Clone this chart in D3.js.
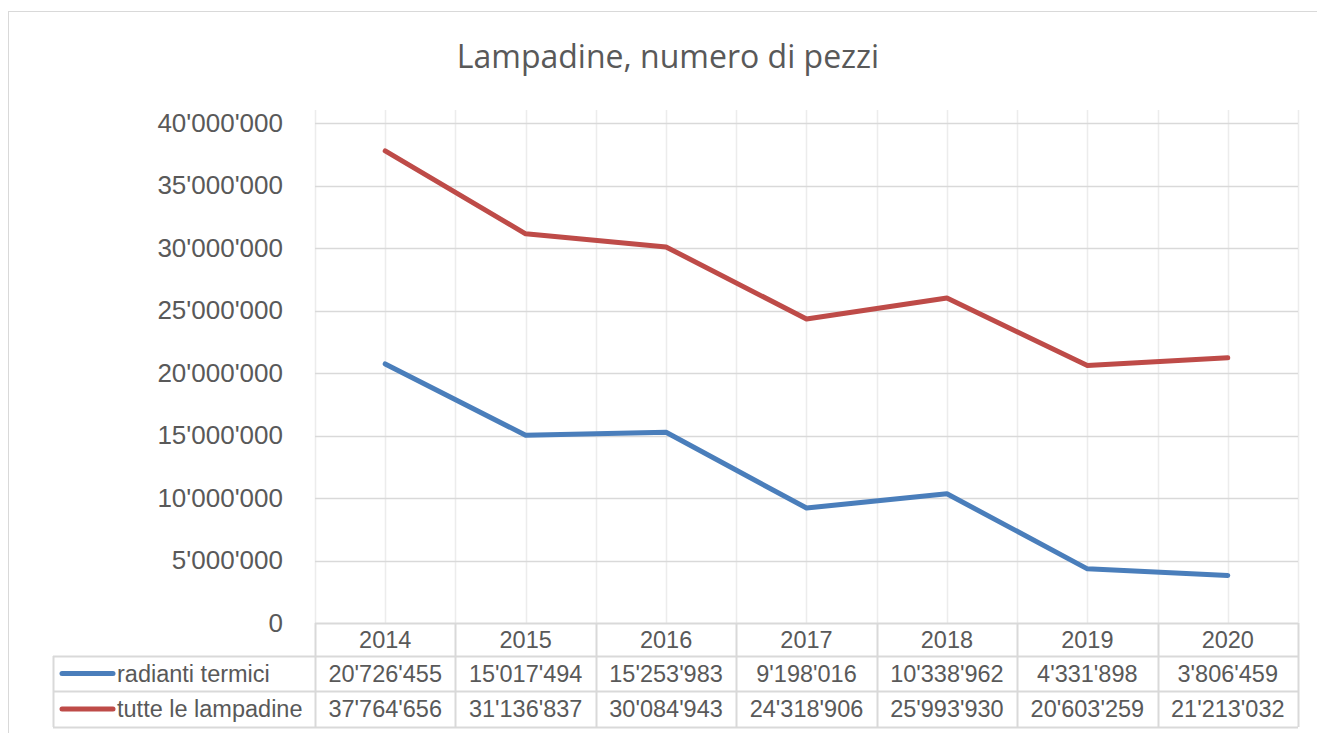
<!DOCTYPE html>
<html>
<head>
<meta charset="utf-8">
<script src="https://cdn.jsdelivr.net/npm/d3@7"></script>
<style>
  body { margin: 0; background: #ffffff; overflow: hidden; }
  text { font-family: "Liberation Sans", Arial, sans-serif; fill: #595959; }
  .title { font-family: "Open Sans", "Noto Sans", sans-serif; }
</style>
</head>
<body>
<div id="chart"></div>
<script>
var years = ["2014", "2015", "2016", "2017", "2018", "2019", "2020"];
var radianti = [20726455, 15017494, 15253983, 9198016, 10338962, 4331898, 3806459];
var tutte = [37764656, 31136837, 30084943, 24318906, 25993930, 20603259, 21213032];
var yTicks = [0, 5000000, 10000000, 15000000, 20000000, 25000000, 30000000, 35000000, 40000000];
var seriesNames = ["radianti termici", "tutte le lampadine"];
var seriesColors = ["#4a7ebb", "#be4b48"];

var width = 1317, height = 733;
var plotLeft = 315, plotRight = 1298, plotTop = 123, plotBottom = 623;
var tableLeft = 53;
var rowH = [623, 656, 691, 727]; // header, row1, row2, end

var fmt = d3.formatLocale({decimal: ".", thousands: "'", grouping: [3], currency: ["", ""]}).format(",d");

var svg = d3.select("#chart").append("svg")
  .attr("width", width)
  .attr("height", height);

// chart frame (runs past the right and bottom edges)
svg.append("rect")
  .attr("x", 8.5).attr("y", 11.5)
  .attr("width", 1320).attr("height", 740)
  .attr("fill", "none")
  .attr("stroke", "#d9d9d9");

svg.append("text")
  .attr("class", "title")
  .attr("x", 668).attr("y", 68)
  .attr("text-anchor", "middle")
  .style("font-size", "32px")
  .text("Lampadine, numero di pezzi");

var x = d3.scaleBand().domain(years).range([plotLeft, plotRight]);
var y = d3.scaleLinear().domain([0, 40000000]).range([plotBottom, plotTop]);

// vertical gridlines: boundaries and centres of each category
var vx = [];
years.forEach(function (d) { vx.push(x(d)); vx.push(x(d) + x.bandwidth() / 2); });
vx.push(plotRight);
svg.selectAll(".vgrid")
  .data(vx)
  .enter().append("line")
  .attr("x1", function (d) { return Math.round(d) + 0.5; })
  .attr("x2", function (d) { return Math.round(d) + 0.5; })
  .attr("y1", 110).attr("y2", plotBottom)
  .attr("stroke", "#ececec")
  .attr("stroke-width", 1.5);

// horizontal gridlines
svg.selectAll(".hgrid")
  .data(yTicks.filter(function (d) { return d > 0; }))
  .enter().append("line")
  .attr("x1", plotLeft).attr("x2", plotRight)
  .attr("y1", function (d) { return Math.round(y(d)) + 0.5; })
  .attr("y2", function (d) { return Math.round(y(d)) + 0.5; })
  .attr("stroke", "#d9d9d9")
  .attr("stroke-width", 1.5);

// y axis labels
var yaxis = d3.axisLeft(y).tickValues(yTicks).tickFormat(fmt).tickSize(0).tickPadding(0);
var gy = svg.append("g")
  .attr("transform", "translate(283,0)")
  .call(yaxis);
gy.select(".domain").remove();
gy.selectAll("text")
  .attr("fill", "#595959")
  .style("font-family", "'Liberation Sans', Arial, sans-serif")
  .style("font-size", "26px");

// lines
var series = [radianti, tutte];
var line = d3.line()
  .x(function (d, i) { return x(years[i]) + x.bandwidth() / 2; })
  .y(function (d) { return y(d); });

svg.selectAll(".series")
  .data(series)
  .enter().append("path")
  .attr("d", line)
  .attr("fill", "none")
  .attr("stroke", function (d, i) { return seriesColors[i]; })
  .attr("stroke-width", 5)
  .attr("stroke-linecap", "round")
  .attr("stroke-linejoin", "round");

// data table
var tg = svg.append("g");
var bc = "#d9d9d9";

tg.append("line").attr("x1", plotLeft).attr("x2", plotRight).attr("y1", rowH[0] + 0.5).attr("y2", rowH[0] + 0.5).attr("stroke", bc).attr("stroke-width", 2);
[1, 2, 3].forEach(function (k) {
  tg.append("line").attr("x1", tableLeft).attr("x2", plotRight)
    .attr("y1", rowH[k] + 0.5).attr("y2", rowH[k] + 0.5)
    .attr("stroke", bc).attr("stroke-width", 2);
});
var colX = years.map(function (d) { return x(d); }).concat([plotRight]);
colX.forEach(function (cx) {
  tg.append("line").attr("x1", Math.round(cx) + 0.5).attr("x2", Math.round(cx) + 0.5)
    .attr("y1", rowH[0]).attr("y2", rowH[3])
    .attr("stroke", bc).attr("stroke-width", 2);
});
tg.append("line").attr("x1", tableLeft + 0.5).attr("x2", tableLeft + 0.5)
  .attr("y1", rowH[1]).attr("y2", rowH[3])
  .attr("stroke", bc).attr("stroke-width", 2);

// header years
tg.selectAll(".yr")
  .data(years)
  .enter().append("text")
  .attr("x", function (d) { return x(d) + x.bandwidth() / 2; })
  .attr("y", (rowH[0] + rowH[1]) / 2 + 8)
  .attr("text-anchor", "middle")
  .style("font-size", "23.5px")
  .text(function (d) { return d; });

series.forEach(function (s, k) {
  var cy = (rowH[k + 1] + rowH[k + 2]) / 2;
  tg.append("line")
    .attr("x1", 62).attr("x2", 113)
    .attr("y1", cy).attr("y2", cy)
    .attr("stroke", seriesColors[k])
    .attr("stroke-width", 5)
    .attr("stroke-linecap", "round");
  tg.append("text")
    .attr("x", 117).attr("y", cy + 8)
    .style("font-size", "23.5px")
    .text(seriesNames[k]);
  tg.selectAll(".v" + k)
    .data(s)
    .enter().append("text")
    .attr("x", function (d, i) { return x(years[i]) + x.bandwidth() / 2; })
    .attr("y", cy + 8)
    .attr("text-anchor", "middle")
    .style("font-size", "23.5px")
    .text(function (d) { return fmt(d); });
});
</script>
</body>
</html>
